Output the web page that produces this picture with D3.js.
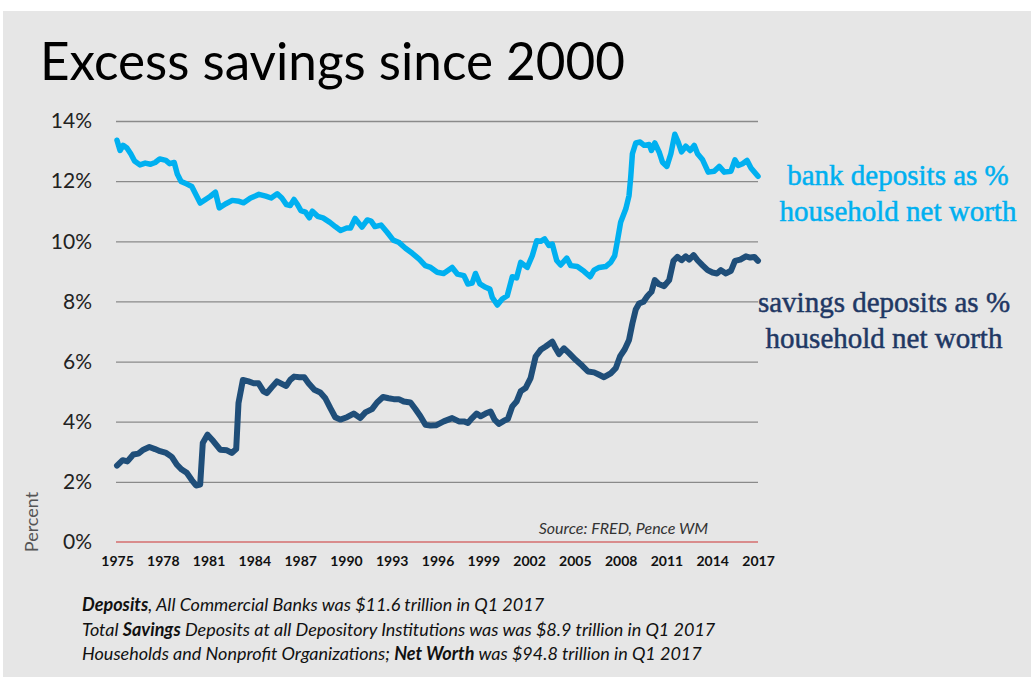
<!DOCTYPE html>
<html>
<head>
<meta charset="utf-8">
<script src="https://cdn.jsdelivr.net/npm/d3@7"></script>
<style>
  html, body { margin: 0; padding: 0; background: #ffffff; }
  svg { display: block; }
</style>
</head>
<body>
<svg id="chart" width="1034" height="677"></svg>
<script>
// ---------------- DATA ----------------
const title = "Excess savings since 2000";
const yTicks = [0, 2, 4, 6, 8, 10, 12, 14];
const xTicks = [1975, 1978, 1981, 1984, 1987, 1990, 1993, 1996, 1999, 2002, 2005, 2008, 2011, 2014, 2017];

const bankYears = [1975.0,1975.2,1975.4,1975.65,1975.9,1976.15,1976.5,1976.85,1977.2,1977.5,1977.8,1978.2,1978.45,1978.75,1978.95,1979.2,1979.55,1979.9,1980.2,1980.45,1980.8,1981.1,1981.45,1981.7,1982.1,1982.55,1983.0,1983.3,1983.75,1984.3,1984.75,1985.1,1985.5,1985.8,1986.1,1986.35,1986.6,1986.8,1987.05,1987.35,1987.6,1987.8,1988.15,1988.5,1988.95,1989.3,1989.65,1990.05,1990.3,1990.6,1991.05,1991.4,1991.65,1991.9,1992.3,1992.7,1993.1,1993.45,1993.9,1994.35,1994.8,1995.2,1995.55,1995.98,1996.4,1996.96,1997.3,1997.73,1997.99,1998.27,1998.49,1998.78,1999.15,1999.43,1999.59,1999.92,2000.24,2000.57,2000.9,2001.18,2001.45,2001.88,2002.21,2002.5,2002.76,2003.02,2003.3,2003.52,2003.81,2004.07,2004.47,2004.73,2005.16,2005.6,2006.0,2006.26,2006.59,2007.02,2007.35,2007.61,2007.79,2008.0,2008.34,2008.55,2008.66,2008.77,2008.99,2009.28,2009.54,2009.87,2010.02,2010.24,2010.52,2010.74,2011.03,2011.29,2011.55,2011.77,2011.99,2012.27,2012.56,2012.82,2013.04,2013.37,2013.74,2014.13,2014.46,2014.79,2015.23,2015.49,2015.71,2015.99,2016.28,2016.54,2017.0];
const bankValues = [13.36,13.02,13.19,13.1,12.91,12.67,12.54,12.6,12.56,12.62,12.74,12.69,12.58,12.62,12.24,11.99,11.91,11.82,11.52,11.27,11.39,11.49,11.63,11.11,11.24,11.36,11.33,11.28,11.44,11.56,11.5,11.44,11.58,11.44,11.22,11.19,11.39,11.24,11.02,10.97,10.78,11.0,10.83,10.78,10.63,10.49,10.36,10.44,10.44,10.76,10.47,10.71,10.67,10.49,10.54,10.3,10.04,9.97,9.77,9.6,9.41,9.19,9.13,8.97,8.93,9.13,8.91,8.86,8.58,8.61,8.93,8.58,8.47,8.41,8.13,7.88,8.08,8.19,8.82,8.78,9.3,9.13,9.52,10.02,10.0,10.08,9.86,9.91,9.36,9.21,9.44,9.19,9.16,9.0,8.82,9.04,9.13,9.16,9.3,9.52,10.02,10.63,11.08,11.52,12.13,12.91,13.27,13.3,13.19,13.22,13.02,13.27,12.97,12.63,12.49,12.91,13.56,13.3,12.97,13.16,13.02,13.19,12.91,12.71,12.3,12.33,12.49,12.3,12.33,12.71,12.52,12.58,12.69,12.44,12.16];

const savingsYears = [1975.0,1975.37,1975.68,1976.07,1976.4,1976.73,1977.12,1977.49,1977.82,1978.22,1978.59,1978.92,1979.24,1979.57,1979.9,1980.18,1980.45,1980.62,1980.93,1981.32,1981.76,1982.2,1982.52,1982.81,1982.96,1983.25,1983.62,1983.95,1984.27,1984.6,1984.82,1985.15,1985.48,1985.8,1986.09,1986.35,1986.61,1986.96,1987.27,1987.55,1987.93,1988.32,1988.65,1988.98,1989.3,1989.63,1990.07,1990.51,1990.94,1991.27,1991.71,1992.04,1992.43,1992.8,1993.13,1993.46,1993.79,1994.23,1994.55,1994.88,1995.21,1995.54,1995.9,1996.41,1996.96,1997.4,1997.73,1997.99,1998.27,1998.56,1998.82,1999.15,1999.48,1999.74,2000.02,2000.35,2000.61,2000.9,2001.18,2001.45,2001.77,2002.1,2002.43,2002.76,2003.09,2003.52,2003.74,2003.96,2004.29,2004.62,2005.05,2005.49,2005.86,2006.26,2006.59,2006.91,2007.35,2007.68,2007.96,2008.27,2008.55,2008.77,2008.99,2009.21,2009.5,2009.76,2010.02,2010.24,2010.52,2010.85,2011.18,2011.46,2011.72,2011.99,2012.27,2012.49,2012.78,2013.04,2013.37,2013.7,2014.02,2014.31,2014.57,2014.9,2015.23,2015.49,2015.84,2016.21,2016.49,2016.76,2017.0];
const savingsValues = [2.54,2.72,2.68,2.91,2.94,3.07,3.16,3.09,3.02,2.96,2.83,2.57,2.41,2.3,2.06,1.88,1.91,3.29,3.57,3.35,3.07,3.05,2.96,3.09,4.62,5.39,5.34,5.28,5.28,5.01,4.95,5.15,5.34,5.26,5.19,5.39,5.5,5.48,5.48,5.28,5.06,4.97,4.78,4.45,4.15,4.07,4.15,4.27,4.12,4.31,4.42,4.64,4.82,4.78,4.75,4.75,4.67,4.64,4.42,4.18,3.9,3.87,3.88,4.01,4.12,4.01,4.01,3.96,4.12,4.27,4.18,4.27,4.34,4.07,3.93,4.03,4.09,4.51,4.67,5.01,5.12,5.45,6.17,6.39,6.5,6.66,6.44,6.25,6.44,6.28,6.06,5.86,5.67,5.64,5.56,5.48,5.61,5.78,6.17,6.41,6.72,7.27,7.73,7.93,7.99,8.18,8.32,8.71,8.57,8.51,8.71,9.35,9.48,9.37,9.5,9.39,9.54,9.37,9.2,9.04,8.96,8.93,9.04,8.93,9.02,9.35,9.39,9.5,9.46,9.48,9.35];

const bankLabel = ["bank deposits as %", "household net worth"];
const savingsLabel = ["savings deposits as %", "household net worth"];
const sourceText = "Source: FRED, Pence WM";
const yAxisTitle = "Percent";
const notes = [
  [["Deposits", true], [", All Commercial Banks was $11.6 trillion in Q1 2017", false]],
  [["Total ", false], ["Savings", true], [" Deposits at all Depository Institutions was was $8.9 trillion in Q1 2017", false]],
  [["Households and Nonprofit Organizations; ", false], ["Net Worth", true], [" was $94.8 trillion in Q1 2017", false]]
];

// ---------------- LAYOUT ----------------
const svg = d3.select("#chart");
const W = 1034, H = 677;
const plot = { left: 116, right: 758, top: 121, bottom: 542 };
const bankColor = "#00b0f0";
const savingsColor = "#1f4e79";
const savingsTextColor = "#1f3864";
const sans = "Lato, 'Open Sans', 'Noto Sans', sans-serif";
const serif = "'Liberation Serif', 'DejaVu Serif', serif";

svg.append("rect").attr("x", 3).attr("y", 11).attr("width", W - 6).attr("height", H - 11)
  .attr("fill", "#e6e6e6");

svg.append("text").attr("x", 40).attr("y", 80)
  .attr("font-family", sans).attr("font-weight", 400).attr("font-size", 53)
  .attr("textLength", 585).attr("lengthAdjust", "spacingAndGlyphs")
  .attr("fill", "#000").text(title);

const x = d3.scaleLinear().domain([1975, 2017]).range([plot.left + 1, plot.right]);
const y = d3.scaleLinear().domain([0, 14]).range([plot.bottom, plot.top]);

// gridlines
const grid = svg.append("g").attr("transform", `translate(${plot.left},0)`)
  .call(d3.axisLeft(y).tickValues(yTicks.filter(d => d > 0)).tickSize(-(plot.right - plot.left)).tickFormat(""));
grid.select(".domain").remove();
grid.selectAll("line").attr("stroke", "#8a8a8a").attr("stroke-width", 1.3);

// zero line
svg.append("line").attr("x1", plot.left).attr("x2", plot.right)
  .attr("y1", y(0)).attr("y2", y(0)).attr("stroke", "#d98c8c").attr("stroke-width", 2);

// y labels
const yAx = svg.append("g").attr("transform", `translate(${plot.left},0)`)
  .call(d3.axisLeft(y).tickValues(yTicks).tickSize(0).tickPadding(24).tickFormat(d => d + "%"));
yAx.select(".domain").remove();
yAx.selectAll("text").attr("font-family", sans).attr("font-size", 21).attr("fill", "#222");

// x labels
const xAx = svg.append("g").attr("transform", `translate(0,${plot.bottom})`)
  .call(d3.axisBottom(x).tickValues(xTicks).tickSize(0).tickPadding(14).tickFormat(d3.format("d")));
xAx.select(".domain").remove();
xAx.selectAll("text").attr("font-family", sans).attr("font-weight", 700).attr("font-size", 14).attr("fill", "#111");

// y-axis title
svg.append("text").attr("transform", "translate(38,522) rotate(-90)")
  .attr("text-anchor", "middle").attr("font-family", sans).attr("font-size", 18).attr("fill", "#555")
  .text(yAxisTitle);

// lines
const line = d3.line().x(d => x(d[0])).y(d => y(d[1]));
const bankData = d3.zip(bankYears, bankValues);
const savingsData = d3.zip(savingsYears, savingsValues);

svg.append("path").datum(bankData).attr("d", line).attr("fill", "none")
  .attr("stroke", bankColor).attr("stroke-width", 5.5).attr("stroke-linejoin", "round").attr("stroke-linecap", "round");
svg.append("path").datum(savingsData).attr("d", line).attr("fill", "none")
  .attr("stroke", savingsColor).attr("stroke-width", 6).attr("stroke-linejoin", "round").attr("stroke-linecap", "round");

// series labels
const bl = svg.append("text").attr("font-family", serif).attr("font-size", 29).attr("fill", bankColor)
  .attr("stroke", bankColor).attr("stroke-width", 0.5).attr("text-anchor", "middle");
bankLabel.forEach((t, i) => bl.append("tspan").attr("x", 898).attr("y", 185 + i * 36).text(t));
const sl = svg.append("text").attr("font-family", serif).attr("font-size", 29).attr("fill", savingsTextColor)
  .attr("stroke", savingsTextColor).attr("stroke-width", 0.5).attr("text-anchor", "middle");
savingsLabel.forEach((t, i) => sl.append("tspan").attr("x", 884).attr("y", 312 + i * 36).text(t));

// source
svg.append("text").attr("x", 708).attr("y", 534).attr("text-anchor", "end")
  .attr("font-family", sans).attr("font-style", "italic").attr("font-size", 16).attr("fill", "#333")
  .text(sourceText);

// notes
notes.forEach((parts, i) => {
  const t = svg.append("text").attr("x", 82).attr("y", 611 + i * 24.5)
    .attr("font-family", sans).attr("font-style", "italic").attr("font-size", 18).attr("fill", "#111");
  parts.forEach(p => t.append("tspan").attr("font-weight", p[1] ? 700 : 400).text(p[0]));
});
</script>
</body>
</html>
